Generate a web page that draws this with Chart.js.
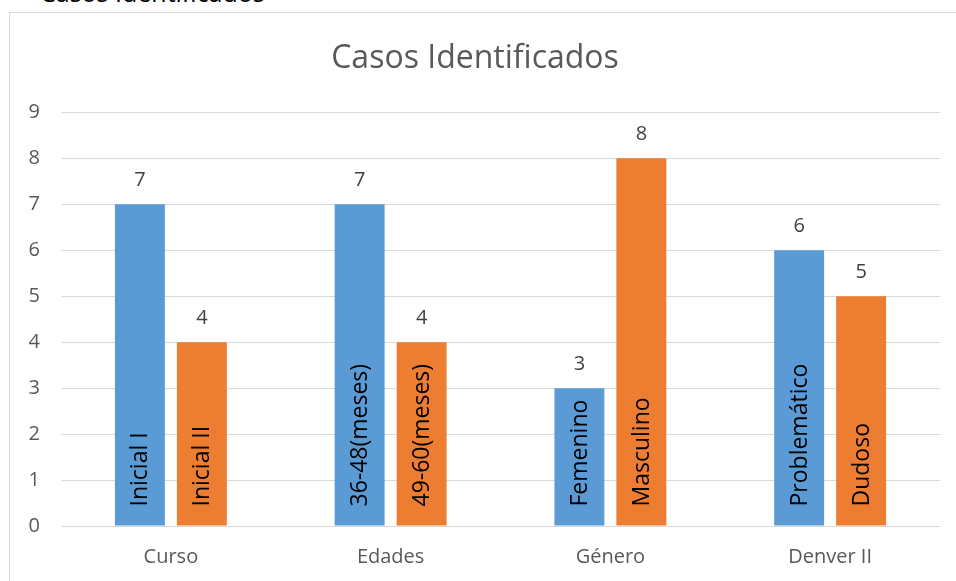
<!DOCTYPE html>
<html>
<head>
<meta charset="utf-8">
<script src="https://cdn.jsdelivr.net/npm/chart.js@4/dist/chart.umd.min.js"></script>
<style>
  body { margin: 0; background: #fff; overflow: hidden; font-family: "Open Sans", sans-serif; }
  #caption { position: absolute; left: 40px; top: -20px; font-size: 25px; color: #000; line-height: 1; white-space: nowrap; }
  #frame { position: absolute; left: 9px; top: 12px; width: 960px; height: 580px; border: 1px solid #d9d9d9; }
  #wrap { position: absolute; left: 10px; top: 13px; width: 946px; height: 568px; }
</style>
</head>
<body>
<div id="caption">Casos Identificados</div>
<div id="frame"></div>
<div id="wrap"><canvas id="chart"></canvas></div>
<script>
// valores
const categorias = ['Curso', 'Edades', 'Género', 'Denver II'];
const serieA = [7, 7, 3, 6];
const serieB = [4, 4, 8, 5];
const etiquetasA = ['Inicial I', '36-48(meses)', 'Femenino', 'Problemático'];
const etiquetasB = ['Inicial II', '49-60(meses)', 'Masculino', 'Dudoso'];
const yTicks = [0, 1, 2, 3, 4, 5, 6, 7, 8, 9];

const FONT = '"Open Sans", sans-serif';

// dibuja el valor encima de cada barra y la etiqueta vertical dentro
const barLabels = {
    id: 'barLabels',
    afterDatasetsDraw(chart) {
        const ctx = chart.ctx;
        chart.data.datasets.forEach((ds, i) => {
            const meta = chart.getDatasetMeta(i);
            meta.data.forEach((bar, j) => {
                ctx.save();
                ctx.fillStyle = '#404040';
                ctx.font = '20px ' + FONT;
                ctx.textAlign = 'center';
                ctx.textBaseline = 'middle';
                ctx.fillText(String(ds.data[j]), bar.x, bar.y - 24);
                ctx.restore();

                ctx.save();
                ctx.translate(bar.x, bar.base - 19);
                ctx.rotate(-Math.PI / 2);
                ctx.fillStyle = '#000';
                ctx.font = '23px ' + FONT;
                ctx.textAlign = 'left';
                ctx.textBaseline = 'middle';
                ctx.fillText(ds.inner[j], 0, 1);
                ctx.restore();
            });
        });
    }
};

new Chart(document.getElementById('chart'), {
    type: 'bar',
    data: {
        labels: categorias,
        datasets: [{
            data: serieA,
            inner: etiquetasA,
            backgroundColor: '#5b9bd5',
            categoryPercentage: 0.564,
            barPercentage: 0.806
        }, {
            data: serieB,
            inner: etiquetasB,
            backgroundColor: '#ed7d31',
            categoryPercentage: 0.564,
            barPercentage: 0.806
        }]
    },
    options: {
        responsive: true,
        maintainAspectRatio: false,
        animation: false,
        layout: { padding: { left: 0, right: 16, top: 0, bottom: 0 } },
        plugins: {
            legend: { display: false },
            tooltip: { enabled: false },
            title: {
                display: true,
                text: 'Casos Identificados',
                color: '#595959',
                font: { family: FONT, size: 32, weight: 'normal' },
                padding: { top: 27, bottom: 34 }
            }
        },
        scales: {
            x: {
                grid: { display: false, drawTicks: false },
                border: { display: false },
                ticks: { color: '#595959', font: { family: FONT, size: 20 }, padding: 19 },
                afterFit(scale) { scale.height = 55; }
            },
            y: {
                min: 0,
                max: 9,
                afterBuildTicks(scale) { scale.ticks = yTicks.map(v => ({ value: v })); },
                grid: { color: '#d9d9d9', lineWidth: 1, drawTicks: false },
                border: { display: false },
                ticks: { color: '#595959', font: { family: FONT, size: 20 }, padding: 21 },
                afterFit(scale) { scale.width = 51; }
            }
        }
    },
    plugins: [barLabels]
});
</script>
</body>
</html>
